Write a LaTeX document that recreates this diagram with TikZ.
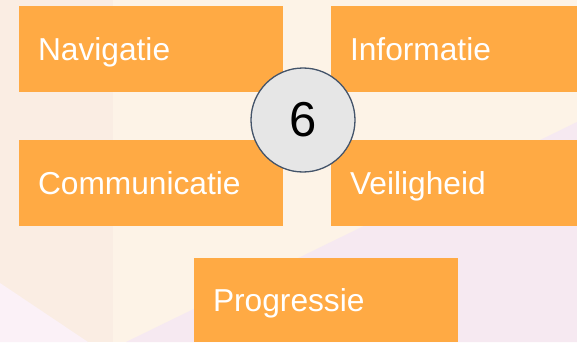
\documentclass[tikz,border=0pt]{standalone}
\usepackage{fontspec}
\setmainfont{Liberation Sans}
\usepackage{tikz}
\usetikzlibrary{positioning}

\definecolor{creamA}{HTML}{FDF3E7}
\definecolor{creamB}{HTML}{FAEDE3}
\definecolor{pinkA}{HTML}{F6E9F1}
\definecolor{pinkB}{HTML}{FBF1F7}
\definecolor{boxorange}{HTML}{FFAA44}
\definecolor{ringgray}{HTML}{E6E6E6}
\definecolor{ringline}{HTML}{44546A}

\tikzset{
  area/.style={
    rectangle,fill=boxorange,text=white,
    inner xsep=19pt,inner ysep=0pt,
    text height=22.7pt,text depth=0pt,
    align=left,
    font=\fontsize{31.7}{38}\selectfont},
  count/.style={
    circle,draw=ringline,line width=1.3pt,fill=ringgray,
    minimum size=104pt,inner sep=0pt,
    font=\fontsize{49}{55}\selectfont}
}

\begin{document}
\begin{tikzpicture}[x=1pt,y=-1pt]
  \useasboundingbox (0,0) rectangle (577,342);

  %background
  \fill[creamA] (0,0) rectangle (577,342);
  \fill[creamB] (0,0) rectangle (113,342);
  \fill[pinkA]
    (126,342)
    --
    (577,122)
    --
    (577,342)
    --
    cycle;
  \fill[pinkB]
    (0,283)
    --
    (88,342)
    --
    (0,342)
    --
    cycle;

  %top
  \node[area,text width=226pt,minimum height=86pt] (nav) at (151,49) {Navigatie};
  \node[area,text width=208pt,minimum height=86pt] (info) at (454,49) {Informatie};

  %middle
  \node[area,text width=226pt,minimum height=86pt] (comm) at (151,183) {Communicatie};
  \node[area,text width=208pt,minimum height=86pt] (veil) at (454,183) {Veiligheid};

  %bottom
  \node[area,text width=226pt,minimum height=84pt] (prog) at (326,300) {Progressie};

  %number
  \node[count] (six) at (303,120) {6};
\end{tikzpicture}
\end{document}
